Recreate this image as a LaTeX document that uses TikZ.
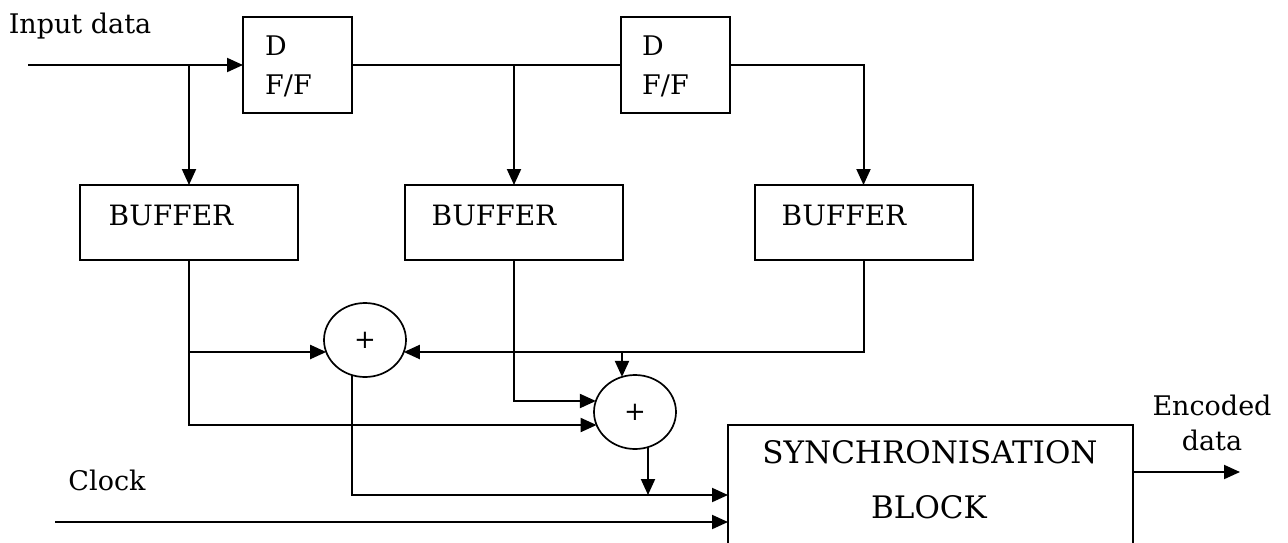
\documentclass[tikz,border=0pt]{standalone}
\usepackage{fontspec}
\setmainfont{DejaVu Serif}
\usetikzlibrary{arrows.meta,shapes.geometric,calc}
\begin{document}
\begin{tikzpicture}[x=1pt,y=-1pt,
  wire/.style={line width=2pt},
  arr/.style={wire,-{Triangle[length=16pt,width=14pt]}},
  blk/.style={draw,line width=2pt,rectangle,inner sep=0pt,outer sep=0pt},
  adder/.style={draw,line width=1.7pt,ellipse,minimum width=82pt,minimum height=74pt,inner sep=0pt,outer sep=0pt,font=\fontsize{26}{30}\selectfont},
  lbl/.style={inner sep=0pt,anchor=base,font=\fontsize{27}{32}\selectfont},
  lbll/.style={lbl,anchor=base west},
  buft/.style={lbl,font=\fontsize{28}{32}\selectfont},
  big/.style={lbl,font=\fontsize{31}{36}\selectfont},
]
\useasboundingbox (0,0) rectangle (1288,542);
\clip (0,0) rectangle (1288,542);

% blocks
\node[blk,minimum width=109pt,minimum height=96pt] (dff1) at (297.5,65) {};
\node[blk,minimum width=109pt,minimum height=96pt] (dff2) at (675,65) {};
\node[blk,minimum width=218pt,minimum height=75pt] (buf1) at (189,222.5) {};
\node[blk,minimum width=218pt,minimum height=75pt] (buf2) at (514,222.5) {};
\node[blk,minimum width=218pt,minimum height=75pt] (buf3) at (863.5,222.5) {};
\node[adder] (add1) at (365,340) {+};
\node[adder] (add2) at (635,412) {+};
\node[blk,minimum width=405pt,minimum height=140pt] (sync) at (930.5,495) {};

% texts
\node[lbl] (tin) at (80,33) {Input data};
\node[lbll] (d1a) at (265,55) {D};
\node[lbll] (d1b) at (265,94) {F/F};
\node[lbll] (d2a) at (642,55) {D};
\node[lbll] (d2b) at (642,94) {F/F};
\node[buft] (b1t) at (171,225) {BUFFER};
\node[buft] (b2t) at (494,225) {BUFFER};
\node[buft] (b3t) at (844,225) {BUFFER};
\node[big] (st1) at (930,463) {SYNCHRONISATION};
\node[big] (st2) at (929,518) {BLOCK};
\node[lbl] (enc1) at (1212,415) {Encoded};
\node[lbl] (enc2) at (1212,450) {data};
\node[lbl] (clkt) at (107,490) {Clock};

% coordinates
\coordinate (inL) at (28,65);
\coordinate (j1) at (189,65);
\coordinate (j2) at (514,65);
\coordinate (a1w) at ($(add1.center)+(-38.8,12)$);
\coordinate (a1e) at ($(add1.center)+(38.8,12)$);
\coordinate (a1s) at ($(add1.center)+(-13,35.1)$);
\coordinate (a2n) at ($(add2.center)+(-13,-35.1)$);
\coordinate (a2w1) at ($(add2.center)+(-39.1,-11)$);
\coordinate (a2w2) at ($(add2.center)+(-38.4,13)$);
\coordinate (a2s) at ($(add2.center)+(13,35.1)$);
\coordinate (bus) at (352,495);
\coordinate (clk) at (55,522);
\coordinate (outE) at (1240,472);
\coordinate (sIn1) at (sync.west |- bus);
\coordinate (sIn2) at (sync.west |- clk);
\coordinate (sOut) at (sync.east |- outE);

% connectors
\draw[arr] (inL) -- (dff1.west);
\draw[arr] (j1) -- (buf1.north);
\draw[wire] (dff1.east) -- (dff2.west);
\draw[arr] (j2) -- (buf2.north);
\draw[arr] (dff2.east) -| (buf3.north);
\draw[arr] (buf1.south) |- (a2w2);
\draw[arr] (buf1.south |- a1w) -- (a1w);
\draw[arr] (buf3.south) |- (a1e);
\draw[arr] (a1e -| a2n) -- (a2n);
\draw[arr] (buf2.south) |- (a2w1);
\draw[arr] (a1s) |- (sIn1);
\draw[arr] (a2s) -- (a2s |- sIn1);
\draw[arr] (clk) -- (sIn2);
\draw[arr] (sOut) -- (outE);
\end{tikzpicture}
\end{document}
